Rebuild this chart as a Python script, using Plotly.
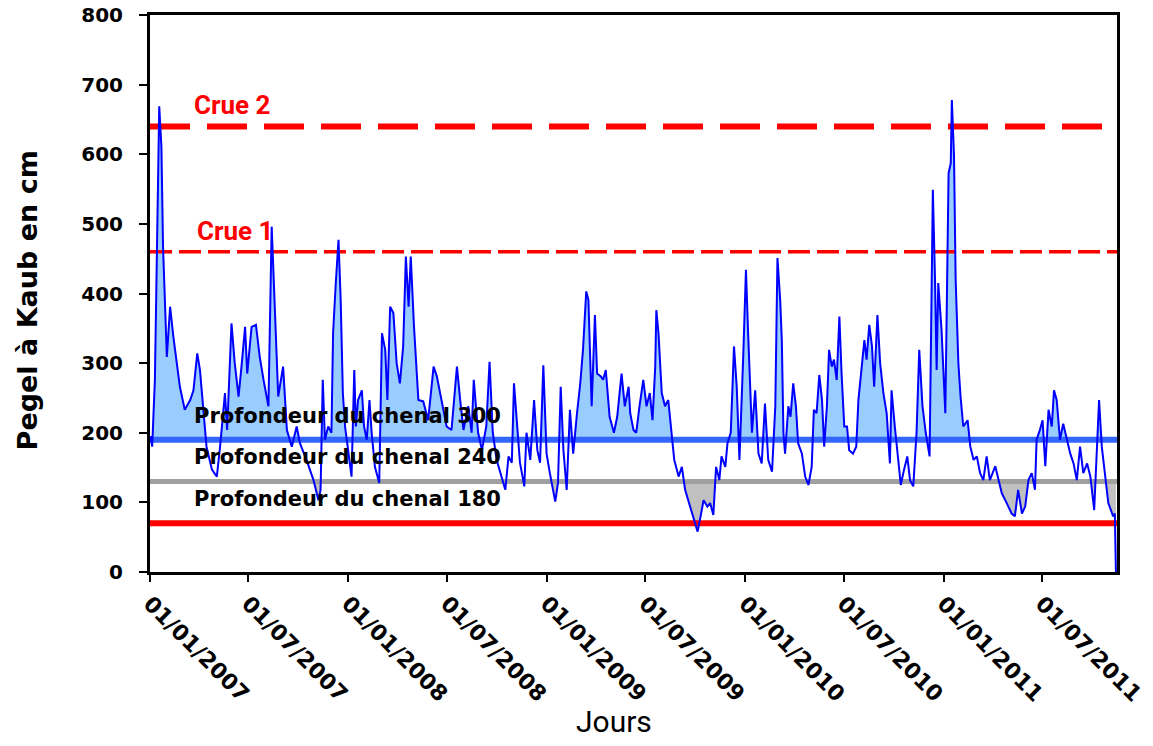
import pandas as pd
import plotly.graph_objects as go

# ---- data ----
start_date = "2007-01-01"
end_date = "2011-11-16"

# days since 01/01/2007 and water level at Kaub (cm)
day_offsets = [
    1, 4, 9, 13, 17, 21, 24, 31, 37, 43, 49, 55, 64, 74, 80, 87, 92, 98, 104, 114,
    123, 129, 138, 142, 150, 156, 163, 169, 175, 179, 187, 195, 202, 209, 218, 224, 230, 236, 245, 252,
    261, 270, 276, 288, 301, 310, 314, 318, 322, 328, 334, 337, 342, 347, 351, 355, 359, 365, 371, 376,
    379, 383, 390, 394, 399, 404, 408, 414, 422, 427, 433, 437, 442, 448, 454, 460, 466, 471, 476, 480,
    486, 494, 503, 512, 522, 528, 537, 546, 555, 565, 571, 577, 586, 592, 596, 604, 611, 619, 625, 631,
    638, 647, 654, 660, 666, 670, 676, 681, 689, 693, 700, 707, 713, 718, 724, 730, 736, 746, 751, 756,
    761, 767, 773, 779, 786, 792, 797, 803, 807, 813, 819, 823, 830, 834, 839, 846, 854, 860, 868, 874,
    881, 884, 890, 895, 901, 908, 914, 920, 925, 930, 932, 936, 942, 948, 954, 960, 965, 973, 979, 985,
    994, 1003, 1008, 1014, 1019, 1026, 1031, 1037, 1042, 1048, 1052, 1059, 1063, 1069, 1075, 1080, 1085, 1092, 1097, 1101,
    1108, 1114, 1120, 1126, 1132, 1138, 1145, 1151, 1155, 1160, 1163, 1166, 1169, 1175, 1179, 1184, 1189, 1193, 1200, 1206,
    1212, 1218, 1222, 1227, 1232, 1237, 1241, 1246, 1250, 1255, 1259, 1264, 1269, 1273, 1278, 1283, 1287, 1294, 1300, 1304,
    1310, 1315, 1319, 1324, 1329, 1333, 1339, 1344, 1350, 1356, 1362, 1365, 1371, 1376, 1382, 1388, 1394, 1399, 1405, 1411,
    1416, 1422, 1428, 1435, 1441, 1445, 1448, 1451, 1457, 1464, 1468, 1470, 1474, 1476, 1480, 1483, 1488, 1492, 1497, 1505,
    1510, 1516, 1522, 1528, 1534, 1540, 1546, 1556, 1562, 1568, 1577, 1586, 1592, 1598, 1605, 1611, 1617, 1623, 1629, 1632,
    1638, 1643, 1648, 1654, 1660, 1664, 1669, 1675, 1681, 1688, 1694, 1700, 1706, 1712, 1718, 1725, 1731, 1738, 1743, 1747,
    1752, 1758, 1764, 1773, 1776, 1778,
]
pegel_cm = [
    195, 180, 276, 467, 669, 611, 467, 309, 381, 338, 300, 266, 233, 247, 261, 314, 290, 228, 180, 147,
    137, 180, 257, 204, 357, 300, 252, 300, 352, 285, 352, 355, 309, 276, 238, 496, 372, 252, 295, 204,
    180, 209, 185, 161, 132, 103, 118, 276, 190, 209, 200, 343, 415, 477, 391, 257, 209, 171, 137, 290,
    209, 247, 261, 209, 190, 247, 200, 151, 128, 343, 319, 247, 381, 372, 300, 271, 324, 453, 381, 453,
    352, 247, 245, 218, 295, 281, 247, 209, 204, 295, 247, 204, 238, 200, 276, 200, 175, 209, 302, 200,
    161, 137, 118, 166, 157, 271, 200, 157, 123, 200, 161, 247, 175, 157, 297, 170, 142, 101, 128, 266,
    175, 118, 233, 170, 228, 271, 319, 403, 391, 238, 369, 285, 281, 276, 290, 223, 200, 223, 285, 238,
    266, 228, 204, 200, 238, 276, 238, 257, 218, 295, 376, 343, 257, 238, 247, 195, 161, 137, 151, 118,
    94, 70, 58, 82, 103, 94, 99, 82, 151, 132, 166, 151, 185, 200, 324, 266, 161, 310, 434, 343,
    200, 261, 170, 156, 242, 161, 144, 238, 451, 391, 333, 200, 170, 238, 223, 271, 238, 185, 170, 137,
    125, 151, 233, 228, 283, 247, 180, 238, 319, 295, 305, 276, 367, 285, 209, 209, 175, 170, 180, 247,
    290, 333, 305, 355, 324, 266, 369, 300, 257, 228, 156, 261, 209, 166, 125, 147, 166, 132, 123, 200,
    319, 238, 200, 166, 549, 420, 290, 415, 348, 228, 467, 573, 587, 678, 597, 420, 300, 252, 209, 218,
    180, 161, 166, 142, 132, 166, 132, 152, 132, 113, 99, 84, 80, 118, 84, 94, 132, 142, 118, 190,
    204, 218, 152, 233, 209, 261, 247, 190, 213, 190, 170, 156, 132, 180, 142, 156, 137, 89, 180, 247,
    180, 142, 99, 80, 84, 0,
]

crue2_level = 640
crue1_level = 460
chenal300_level = 190
chenal240_level = 130
chenal180_level = 70

x_tick_labels_fmt = "%d/%m/%Y"

# ---- helpers ----
base = pd.Timestamp(start_date)


def to_dates(days):
    return [base + pd.to_timedelta(d, unit="D") for d in days]


def clipped(days, vals, level, above=True):
    xs, ys = [], []
    for i, (d, v) in enumerate(zip(days, vals)):
        if i > 0:
            d0, v0 = days[i - 1], vals[i - 1]
            if (v0 - level) * (v - level) < 0:
                t = (level - v0) / (v - v0)
                xs.append(d0 + t * (d - d0))
                ys.append(level)
        xs.append(d)
        ys.append(max(v, level) if above else min(v, level))
    return xs, ys


fig = go.Figure()

# blue fill above 190
ux, uy = clipped(day_offsets, pegel_cm, chenal300_level, above=True)
udates = to_dates(ux)
fig.add_trace(go.Scatter(x=udates, y=[chenal300_level] * len(udates), mode="lines",
                         line=dict(width=0), hoverinfo="skip", showlegend=False))
fig.add_trace(go.Scatter(x=udates, y=uy, mode="lines", line=dict(width=0),
                         fill="tonexty", fillcolor="#99CCFF", hoverinfo="skip", showlegend=False))

# gray fill below 130
lx, ly = clipped(day_offsets, pegel_cm, chenal240_level, above=False)
ldates = to_dates(lx)
fig.add_trace(go.Scatter(x=ldates, y=[chenal240_level] * len(ldates), mode="lines",
                         line=dict(width=0), hoverinfo="skip", showlegend=False))
fig.add_trace(go.Scatter(x=ldates, y=ly, mode="lines", line=dict(width=0),
                         fill="tonexty", fillcolor="#C0C0C0", hoverinfo="skip", showlegend=False))

span = [start_date, end_date]
fig.add_trace(go.Scatter(x=span, y=[chenal180_level] * 2, mode="lines",
                         line=dict(color="#FF0000", width=6), showlegend=False))
fig.add_trace(go.Scatter(x=span, y=[chenal240_level] * 2, mode="lines",
                         line=dict(color="#A0A0A0", width=5), showlegend=False))
fig.add_trace(go.Scatter(x=span, y=[chenal300_level] * 2, mode="lines",
                         line=dict(color="#3366FF", width=6), showlegend=False))
fig.add_trace(go.Scatter(x=span, y=[crue1_level] * 2, mode="lines",
                         line=dict(color="#FF0000", width=3.5, dash="22px,7px"), showlegend=False))
fig.add_trace(go.Scatter(x=span, y=[crue2_level] * 2, mode="lines",
                         line=dict(color="#FF0000", width=6, dash="40px,17px"), showlegend=False))

# main series
fig.add_trace(go.Scatter(x=to_dates(day_offsets), y=pegel_cm, mode="lines",
                         line=dict(color="#0000FF", width=2), showlegend=False))

bold_font = "DejaVu Sans"

annotations = [
    dict(text="<b>Crue 2</b>", x=0.0434, y=671, xanchor="left", yanchor="middle",
         font=dict(family="Roboto", size=26, color="#FF0000")),
    dict(text="<b>Crue 1</b>", x=0.0465, y=490, xanchor="left", yanchor="middle",
         font=dict(family="Roboto", size=26, color="#FF0000")),
    dict(text="<b>Profondeur du chenal 300</b>", x=0.0434, y=224, xanchor="left", yanchor="middle",
         font=dict(family=bold_font, size=21, color="#000000")),
    dict(text="<b>Profondeur du chenal 240</b>", x=0.0434, y=165, xanchor="left", yanchor="middle",
         font=dict(family=bold_font, size=21, color="#000000")),
    dict(text="<b>Profondeur du chenal 180</b>", x=0.0434, y=105, xanchor="left", yanchor="middle",
         font=dict(family=bold_font, size=21, color="#000000")),
]
for a in annotations:
    a.update(xref="paper", yref="y", showarrow=False)

annotations += [
    dict(text="Jours", xref="paper", yref="paper", x=0.48, y=-0.269, xanchor="center",
         yanchor="middle", showarrow=False, font=dict(family="Roboto", size=30, color="#000000")),
    dict(text="<b>Pegel à Kaub en cm</b>", xref="paper", yref="paper", x=-0.127, y=0.488,
         xanchor="center", yanchor="middle", textangle=-90, showarrow=False,
         font=dict(family=bold_font, size=27, color="#000000")),
]

fig.update_layout(
    width=1153, height=746,
    margin=dict(l=150, r=36, t=15, b=174, autoexpand=False),
    paper_bgcolor="white", plot_bgcolor="white",
    annotations=annotations,
    xaxis=dict(
        type="date", range=span, tick0=start_date, dtick="M6", tickformat=x_tick_labels_fmt,
        tickangle=45, ticks="outside", ticklen=7, tickwidth=2, tickcolor="black",
        showline=True, linewidth=3, linecolor="black", mirror=True, automargin=False,
        showgrid=False, zeroline=False,
        tickfont=dict(family=bold_font, size=22, color="black", weight="bold"),
    ),
    yaxis=dict(
        range=[0, 800], dtick=100, ticks="outside", ticklen=8, tickwidth=2, tickcolor="black",
        showline=True, linewidth=3, linecolor="black", mirror=True, automargin=False,
        showgrid=False, zeroline=False, ticklabelstandoff=12,
        tickfont=dict(family=bold_font, size=20, color="black", weight="bold"),
    ),
)

# remove the browser's default page margin so the figure sits at the window origin
fig.write_html("out.html", config={"displayModeBar": False},
               post_script="document.body.style.margin='0px';")
